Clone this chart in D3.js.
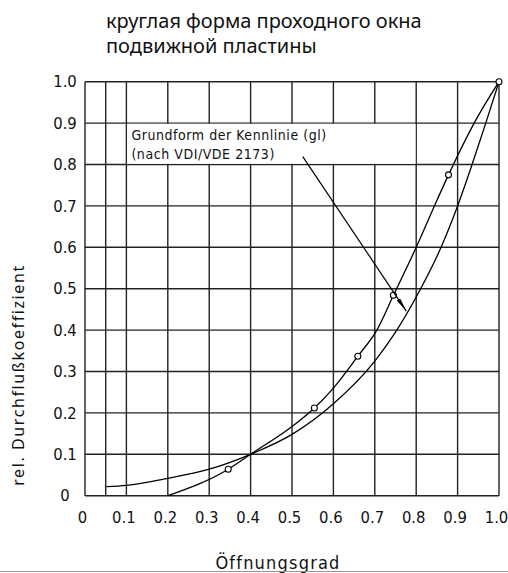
<!DOCTYPE html>
<html>
<head>
<meta charset="utf-8">
<script src="https://cdn.jsdelivr.net/npm/d3@7"></script>
<style>
  body { margin: 0; background: #fff; }
  svg { display: block; }
  .tick text { font-family: 'DejaVu Sans Condensed', sans-serif; fill: #111; }
</style>
</head>
<body>
<svg></svg>
<script>
// data
let titleLines = ['круглая форма проходного окна', 'подвижной пластины']
let xLabel = 'Öffnungsgrad'
let yLabel = 'rel. Durchflußkoeffizient'
let noteLines = ['Grundform der Kennlinie (gl)', '(nach VDI/VDE 2173)']

let xTicks = [0, 0.1, 0.2, 0.3, 0.4, 0.5, 0.6, 0.7, 0.8, 0.9, 1.0]
let yTicks = [0, 0.1, 0.2, 0.3, 0.4, 0.5, 0.6, 0.7, 0.8, 0.9, 1.0]
let xGrid = [0, 0.05, 0.1, 0.2, 0.3, 0.4, 0.5, 0.6, 0.7, 0.8, 0.9, 1.0]

// curve with circle markers
let curveA = [[0.2, 0], [0.346, 0.064], [0.4, 0.1], [0.5, 0.167], [0.554, 0.212], [0.6, 0.26],
              [0.659, 0.337], [0.705, 0.4], [0.745, 0.484], [0.8, 0.6], [0.844, 0.7],
              [0.878, 0.775], [0.94, 0.9], [1.0, 1.0]]
let markersA = [[0.346, 0.064], [0.554, 0.212], [0.659, 0.337], [0.745, 0.484], [0.878, 0.775], [1.0, 1.0]]

// equal percentage curve (gl)
let curveB = [[0.052, 0.022], [0.1, 0.025], [0.2, 0.042], [0.3, 0.064], [0.4, 0.1], [0.5, 0.148],
              [0.6, 0.222], [0.7, 0.325], [0.75, 0.395], [0.8, 0.48],
              [0.86, 0.6], [0.9, 0.7], [0.935, 0.8], [0.968, 0.9], [1.0, 1.0]]

// note box and arrow (data coords)
let noteBox = [[0.1, 0.9], [0.8, 0.8]]
let arrowLine = [[0.526, 0.819], [0.776, 0.446]]

let width = 508
let height = 573

let svg = d3.select('svg').attr('width', width).attr('height', height)

let xScale = d3.scaleLinear().domain([0, 1]).range([85, 499])
let yScale = d3.scaleLinear().domain([0, 1]).range([495.7, 81.7])

// title
svg.append('g')
   .selectAll('text')
   .data(titleLines)
   .enter()
   .append('text')
   .attr('x', 106)
   .attr('y', (d, i) => 28 + i * 25)
   .attr('font-family', "'Noto Sans', sans-serif")
   .attr('font-size', 20)
   .attr('fill', '#111')
   .text(d => d)

// grid
let grid = svg.append('g').attr('stroke', '#222').attr('stroke-width', 1.4)
grid.selectAll('.vg')
    .data(xGrid)
    .enter()
    .append('line')
    .attr('x1', d => xScale(d))
    .attr('x2', d => xScale(d))
    .attr('y1', yScale(0))
    .attr('y2', yScale(1))
grid.selectAll('.hg')
    .data(yTicks)
    .enter()
    .append('line')
    .attr('x1', xScale(0))
    .attr('x2', xScale(1))
    .attr('y1', d => yScale(d))
    .attr('y2', d => yScale(d))

// white note box hiding the grid
svg.append('rect')
   .attr('x', xScale(noteBox[0][0]) + 0.7)
   .attr('y', yScale(noteBox[0][1]) + 0.7)
   .attr('width', xScale(noteBox[1][0]) - xScale(noteBox[0][0]) - 1.4)
   .attr('height', yScale(noteBox[1][1]) - yScale(noteBox[0][1]) - 1.4)
   .attr('fill', '#fff')

svg.append('g')
   .selectAll('text')
   .data(noteLines)
   .enter()
   .append('text')
   .attr('x', xScale(noteBox[0][0]) + 5)
   .attr('y', (d, i) => 140 + i * 19)
   .attr('font-family', "'DejaVu Sans Condensed', sans-serif")
   .attr('font-size', 14)
   .attr('letter-spacing', 0.55)
   .attr('fill', '#111')
   .text(d => d)

// axes (labels only)
let fmt = d => d === 0 ? '0' : d3.format('.1f')(d)
let xAxis = d3.axisBottom(xScale).tickValues(xTicks).tickSize(0).tickPadding(16).tickFormat(fmt)
svg.append('g')
   .attr('id', 'x-axis')
   .attr('transform', 'translate(0,' + yScale(0) + ')')
   .call(xAxis)
   .call(g => g.select('.domain').remove())
   .selectAll('text')
   .attr('font-size', 16.5)
   .attr('dx', -3)

let yAxis = d3.axisLeft(yScale).tickValues(yTicks).tickSize(0).tickPadding(0).tickFormat(fmt)
svg.append('g')
   .attr('id', 'y-axis')
   .attr('transform', 'translate(65,0)')
   .call(yAxis)
   .call(g => g.select('.domain').remove())
   .selectAll('text')
   .attr('text-anchor', 'middle')
   .attr('font-size', 16.5)

// axis titles
svg.append('text')
   .attr('transform', 'translate(24,' + 375 + ') rotate(-90)')
   .attr('text-anchor', 'middle')
   .attr('font-family', "'Noto Sans', sans-serif")
   .attr('font-size', 16)
   .attr('letter-spacing', 1.6)
   .attr('fill', '#111')
   .text(yLabel)

svg.append('text')
   .attr('x', 278)
   .attr('y', 569)
   .attr('text-anchor', 'middle')
   .attr('font-family', "'DejaVu Sans Condensed', sans-serif")
   .attr('font-size', 18)
   .attr('letter-spacing', 1.2)
   .attr('fill', '#111')
   .text(xLabel)

svg.append('line')
   .attr('x1', 0).attr('x2', width)
   .attr('y1', 571.5).attr('y2', 571.5)
   .attr('stroke', '#999')
   .attr('stroke-width', 1)

// curves
let line = d3.line()
             .x(d => xScale(d[0]))
             .y(d => yScale(d[1]))
             .curve(d3.curveMonotoneX)

svg.append('path')
   .datum(curveB)
   .attr('d', line)
   .attr('fill', 'none')
   .attr('stroke', '#000')
   .attr('stroke-width', 1.3)

svg.append('path')
   .datum(curveA)
   .attr('d', line)
   .attr('fill', 'none')
   .attr('stroke', '#000')
   .attr('stroke-width', 1.3)

svg.selectAll('.marker')
   .data(markersA)
   .enter()
   .append('circle')
   .attr('class', 'marker')
   .attr('cx', d => xScale(d[0]))
   .attr('cy', d => yScale(d[1]))
   .attr('r', 3)
   .attr('fill', '#fff')
   .attr('stroke', '#000')
   .attr('stroke-width', 1.1)

// arrow
svg.append('defs')
   .append('marker')
   .attr('id', 'arrow')
   .attr('viewBox', '0 0 14 4')
   .attr('refX', 14)
   .attr('refY', 2)
   .attr('markerWidth', 14)
   .attr('markerHeight', 4)
   .attr('markerUnits', 'userSpaceOnUse')
   .attr('orient', 'auto')
   .append('path')
   .attr('d', 'M0,0 L14,2 L0,4 Z')
   .attr('fill', '#000')

svg.append('path')
   .datum(arrowLine)
   .attr('d', d3.line().x(d => xScale(d[0])).y(d => yScale(d[1])))
   .attr('fill', 'none')
   .attr('stroke', '#000')
   .attr('stroke-width', 1.2)
   .attr('marker-end', 'url(#arrow)')
</script>
</body>
</html>
